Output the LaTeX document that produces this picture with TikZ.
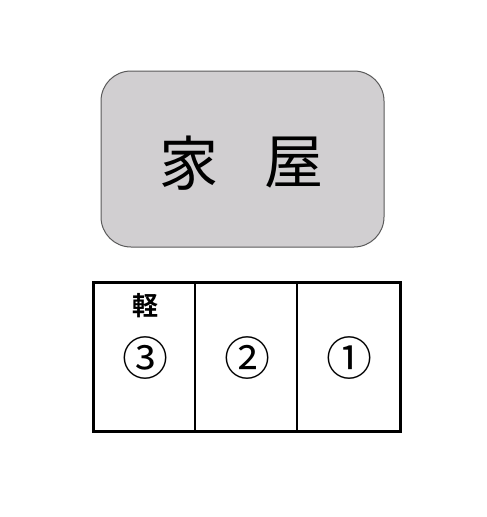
\documentclass[tikz,border=0pt]{standalone}
\usepackage{fontspec}
\newfontfamily\cjk{Noto Sans CJK JP}
\newfontfamily\cjkb{Noto Sans CJK JP Bold}
\definecolor{housegray}{HTML}{D1CFD1}
\definecolor{edgegray}{HTML}{5A5A5A}
\begin{document}
\begin{tikzpicture}[x=1pt,y=-1pt,
  house/.style={draw=edgegray,line width=1pt,fill=housegray,rounded corners=30pt},
  lot/.style={draw=black,line width=3pt},
  divider/.style={draw=black,line width=2.2pt},
  numtxt/.style={font=\cjk\fontsize{46}{46}\selectfont,inner sep=0pt},
]
\useasboundingbox (0,0) rectangle (487,517);
\fill[white] (0,0) rectangle (487,517);
\draw[house] (101,71) rectangle (384,247);
\node[font=\cjk\fontsize{59}{59}\selectfont,inner sep=0pt] (k1) at (189,163) {家};
\node[font=\cjk\fontsize{59}{59}\selectfont,inner sep=0pt] (k2) at (294,163) {屋};
\draw[lot] (93,282) rectangle (400,431);
\coordinate (d1t) at (195,282); \coordinate (d1b) at (195,431);
\coordinate (d2t) at (297,282); \coordinate (d2b) at (297,431);
\draw[divider] (d1t) -- (d1b);
\draw[divider] (d2t) -- (d2b);
\node[font=\cjkb\fontsize{26}{26}\selectfont,inner sep=0pt] (kei) at (145,306) {軽};
\node[numtxt] (n3) at (145,358) {③};
\node[numtxt] (n2) at (247,358) {②};
\node[numtxt] (n1) at (349,358) {①};
\end{tikzpicture}
\end{document}
